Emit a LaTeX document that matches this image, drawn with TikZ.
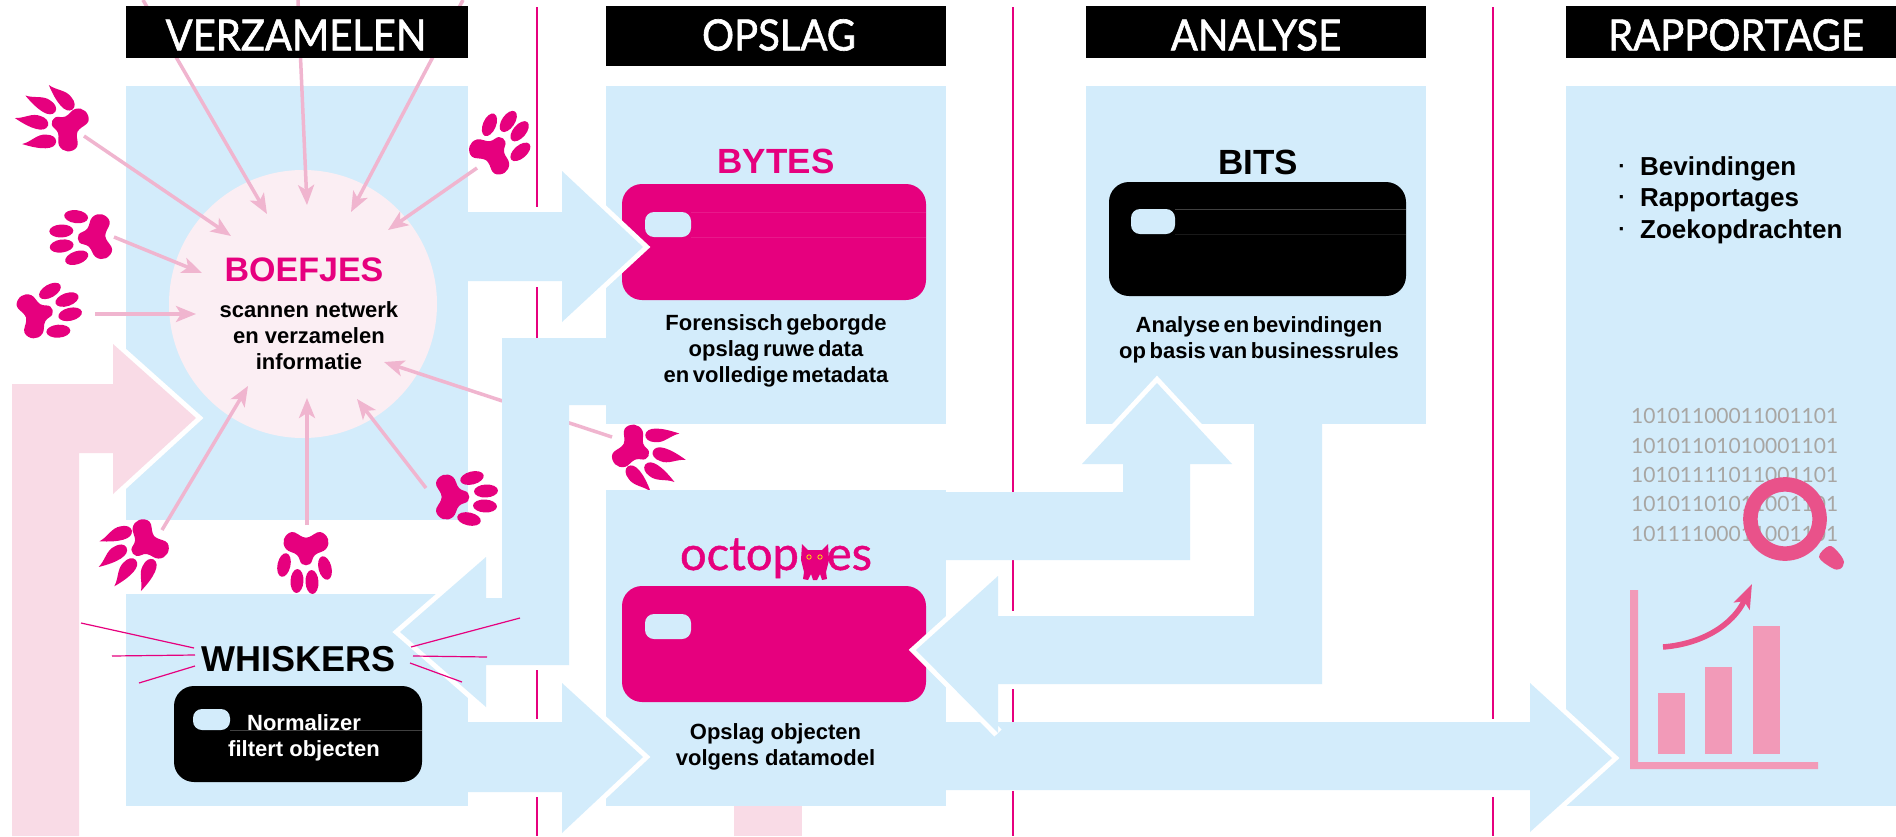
\documentclass[tikz,border=0pt]{standalone}
\usepackage{fontspec}
\setmainfont{Liberation Sans}
\newfontfamily\latofont{Lato}
\newfontfamily\latoheavy[FakeBold=1.5]{Lato}
\newfontfamily\latologo[FakeBold=1]{Lato}
\usetikzlibrary{arrows.meta}
\definecolor{panelblue}{HTML}{D3ECFB}
\definecolor{kpink}{HTML}{E6007E}
\definecolor{palepink}{HTML}{F0B5CF}
\definecolor{softpink}{HTML}{F9DBE6}
\definecolor{circlepink}{HTML}{FBEEF3}
\definecolor{magpink}{HTML}{E9528A}
\definecolor{barpink}{HTML}{F29AB8}
\definecolor{bingray}{HTML}{A8A6A3}
\newcommand{\rtoe}[3]{\fill[shift={(#1,#2)},rotate=#3] (0,0) ellipse [x radius=6.5pt,y radius=12pt];}
\newcommand{\ctoe}[3]{\fill[shift={(#1,#2)},rotate=#3] (0,-13) .. controls (9,-12) and (8,3) .. (2,21) .. controls (0,12) and (-8,6) .. (-7,-3) .. controls (-7,-9) and (-4,-13) .. (0,-13) -- cycle;}
\newcommand{\pawpadshape}{\fill[kpink] plot[smooth cycle,tension=0.7] coordinates {(-22,-8) (-14,-15) (-3,-10) (3,-10) (14,-15) (22,-8) (20,2) (9,8) (4,17) (-4,17) (-9,8) (-20,2)};}
\newcommand{\tightbody}{\bfseries\fontsize{22}{26}\selectfont\spaceskip=.16em\relax}
\tikzset{
 pawround/.pic={\pawpadshape \begin{scope}[kpink]\rtoe{-22}{18}{-12}\rtoe{-9}{34}{-3}\rtoe{6}{35}{3}\rtoe{19}{21}{14}\end{scope}},
 pawclaw/.pic={\pawpadshape \begin{scope}[kpink]\ctoe{-24}{16}{-25}\ctoe{-11}{32}{-8}\ctoe{8}{33}{8}\ctoe{23}{18}{25}\end{scope}},
 panel/.style={fill=panelblue,anchor=north west,inner sep=0pt,outer sep=0pt},
 header/.style={fill=black,anchor=north west,inner sep=0pt,outer sep=0pt},
 headtext/.style={font=\latoheavy\fontsize{43}{46}\selectfont,text=white,inner sep=0pt,xscale=.93},
 card/.style={anchor=north west,inner sep=0pt,outer sep=0pt,rounded corners=20pt},
 pill/.style={fill=panelblue,anchor=north west,inner sep=0pt,outer sep=0pt,rounded corners=9pt},
 body/.style={font=\bfseries\fontsize{22}{26}\selectfont,align=center,inner sep=0pt},
 title/.style={font=\bfseries\fontsize{35}{38}\selectfont,inner sep=0pt},
 feed/.style={draw=palepink,line width=3.5pt,-{Stealth[length=20pt,width=16pt,inset=5pt]}},
 whisker/.style={draw=kpink,line width=1.2pt},
 halo/.style={draw=white,line width=10pt,miter limit=10},
 flow/.style={fill=panelblue},
 faint/.style={line width=.5pt}
}
\begin{document}
\begin{tikzpicture}[x=1pt,y=-1pt]
\useasboundingbox (0,0) rectangle (1896,836);
\fill[white] (0,0) rectangle (1896,836);

% section dividers
\foreach \x/\a/\b in {537/7/207,537/287/338,537/670/719,537/797/836,
 1013/7/492,1013/560/611,1013/689/722,1013/791/836,1493/7/719,1493/797/836}
 {\draw[kpink,line width=2.6pt] (\x,\a) -- (\x,\b);}

% upper panels
\node[panel,minimum width=342pt,minimum height=434pt] (pVerz) at (126,86) {};
\node[panel,minimum width=340pt,minimum height=338pt] (pByt) at (606,86) {};
\node[panel,minimum width=340pt,minimum height=338pt] (pBit) at (1086,86) {};
\node[panel,minimum width=330pt,minimum height=720pt] (pRap) at (1566,86) {};

% pink input arrow
\draw[halo] (113,344) -- (196,418) -- (113,494);
\fill[softpink] (12,836) -- (12,384) -- (113,384) -- (113,344) -- (196,418) -- (113,494) -- (113,453) -- (79,453) -- (79,836) -- cycle;
\fill[softpink] (734,806) rectangle (802,836);

% boefjes circle
\node[circle,fill=circlepink,minimum size=268pt,inner sep=0pt] (boefjes) at (303,304) {};

% free ends of the feeds
\coordinate (s1) at (143,0);  \coordinate (t1) at (267,214);
\coordinate (s2) at (298,0);  \coordinate (t2) at (307,205);
\coordinate (s3) at (463,0);  \coordinate (t3) at (351,212);
\coordinate (s4) at (84,136); \coordinate (t4) at (231,236);
\coordinate (s5) at (114,237);\coordinate (t5) at (202,273);
\coordinate (s6) at (95,314); \coordinate (t6) at (196,314);
\coordinate (s7) at (477,168);\coordinate (t7) at (388,230);
\coordinate (s8) at (612,437);\coordinate (t8) at (384,362);
\coordinate (s9) at (162,530);\coordinate (t9) at (248,386);
\coordinate (s10) at (307,525);\coordinate (t10) at (307,398);
\coordinate (s11) at (426,488);\coordinate (t11) at (357,399);
\foreach \i in {1,...,11} {\draw[feed] (s\i) -- (t\i);}

% paws
\pic[rotate=-114] at (69,128) {pawclaw};
\pic[rotate=-85] at (96,237) {pawround};
\pic[rotate=106] at (35,315) {pawround};
\pic[rotate=143] at (492,153) {pawround};
\pic[rotate=64] at (632,448) {pawclaw};
\pic[rotate=90] at (451,497) {pawround};
\pic[rotate=0] at (306,547) {pawround};
\pic[rotate=-50] at (147,542) {pawclaw};

% lower panels
\node[panel,minimum width=342pt,minimum height=212pt] (pWhisk) at (126,594) {};
\node[panel,minimum width=340pt,minimum height=316pt] (pOcto) at (606,490) {};

% cards
\node[card,fill=kpink,minimum width=304pt,minimum height=116pt] (cByt) at (622,184) {};
\node[pill,minimum width=46pt,minimum height=25pt] (pillByt) at (645,212) {};
\draw[faint,color=kpink!90!white] (pillByt.north east) -- (cByt.east |- pillByt.north);
\draw[faint,color=kpink!90!white] (pillByt.south east) -- (cByt.east |- pillByt.south);
\node[card,fill=black,minimum width=297pt,minimum height=114pt] (cBit) at (1109,182) {};
\node[pill,minimum width=44pt,minimum height=25pt] (pillBit) at (1131,209) {};
\draw[faint,color=black!75!white] (pillBit.north east) -- (cBit.east |- pillBit.north);
\draw[faint,color=black!90!white] (pillBit.south east) -- (cBit.east |- pillBit.south);
\node[card,fill=kpink,minimum width=304pt,minimum height=116pt] (cOcto) at (622,586) {};
\node[pill,minimum width=46pt,minimum height=25pt] (pillOcto) at (645,614) {};
\node[card,fill=black,minimum width=248pt,minimum height=96pt] (cWhisk) at (174,686) {};
\node[pill,minimum width=37pt,minimum height=21pt] (pillWhisk) at (193,709) {};
\draw[faint,color=black!75!white] (pillWhisk.south east) -- (cWhisk.east |- pillWhisk.south);

% flow arrows
\draw[halo] (562,171) -- (643,247) -- (562,322);
\fill[flow] (468,212) -- (562,212) -- (562,171) -- (643,247) -- (562,322) -- (562,281) -- (468,281) -- cycle;

\draw[halo] (562,683) -- (643,757) -- (562,833);
\fill[flow] (468,722) -- (562,722) -- (562,683) -- (643,757) -- (562,833) -- (562,792) -- (468,792) -- cycle;

\draw[halo] (486,557) -- (400,632) -- (486,707);
\fill[flow] (606,338) -- (502,338) -- (502,598) -- (486,598) -- (486,557) -- (400,632) -- (486,707) -- (486,665) -- (569,665) -- (569,405) -- (606,405) -- cycle;

\draw[halo] (1082,464) -- (1157,383) -- (1232,464);
\fill[flow] (946,492) -- (1123,492) -- (1123,464) -- (1082,464) -- (1157,383) -- (1232,464) -- (1190,464) -- (1190,560) -- (946,560) -- cycle;

\draw[halo] (1530,683) -- (1612,758) -- (1530,832);
\fill[flow] (946,722) -- (1530,722) -- (1530,683) -- (1612,758) -- (1530,832) -- (1530,790) -- (946,790) -- cycle;

\draw[halo] (998,576) -- (916,650) -- (998,733);
\fill[flow] (1254,424) -- (1254,616) -- (998,616) -- (998,576) -- (916,650) -- (998,733) -- (998,684) -- (1322,684) -- (1322,424) -- cycle;

% headers
\node[header,minimum width=342pt,minimum height=52pt] (hVerz) at (126,6) {};
\node[headtext] (hVerzT) at (296,35) {VERZAMELEN};
\node[header,minimum width=340pt,minimum height=60pt] (hOps) at (606,6) {};
\node[headtext] (hOpsT) at (779,35) {OPSLAG};
\node[header,minimum width=340pt,minimum height=52pt] (hAna) at (1086,6) {};
\node[headtext] (hAnaT) at (1256,35) {ANALYSE};
\node[header,minimum width=330pt,minimum height=52pt] (hRap) at (1566,6) {};
\node[headtext] (hRapT) at (1736,35) {RAPPORTAGE};

% texts
\node[title,text=kpink,font=\bfseries\fontsize{34}{38}\selectfont] (tBoef) at (304,270) {BOEFJES};
\node[body] (tBoefBody) at (309,336) {scannen netwerk\\en verzamelen\\informatie};
\node[title,text=kpink] (tByt) at (776,161) {BYTES};
\node[body,font=\tightbody] (tBytBody) at (776,351) {Forensisch geborgde\\opslag ruwe data\\en volledige metadata};
\node[title] (tBit) at (1258,162) {BITS};
\node[body,font=\tightbody] (tBitBody) at (1259,340) {Analyse en bevindingen\\op basis van businessrules};
\node[body] (tOctoBody) at (775.5,747) {Opslag objecten\\volgens datamodel};
\node[body,text=white] (tNorm) at (304,737.5) {Normalizer\\filtert objecten};
\node[title,font=\bfseries\fontsize{36}{40}\selectfont] (tWhisk) at (299,659) {WHISKERS};

% whiskers
\coordinate (wa1) at (81,623);  \coordinate (wb1) at (194,648);
\coordinate (wa2) at (112,656); \coordinate (wb2) at (195,655);
\coordinate (wa3) at (139,683); \coordinate (wb3) at (195,666);
\coordinate (wa4) at (520,618); \coordinate (wb4) at (411,647);
\coordinate (wa5) at (487,657); \coordinate (wb5) at (413,656);
\coordinate (wa6) at (462,682); \coordinate (wb6) at (410,663);
\foreach \i in {1,...,6} {\draw[whisker] (wa\i) -- (wb\i);}

% octopoes logo
\node[font=\latologo\fontsize{47}{50}\selectfont,text=kpink,inner sep=0pt,anchor=base] (tOcto) at (776,570) {octop\hspace{28pt}es};
\fill[kpink] (802,544) -- (808,550) -- (822,550) -- (828,544) -- (829,560) -- (826,572) -- (827,579) -- (822,580) -- (820,574) -- (817,580) -- (813,580) -- (811,574) -- (808,580) -- (803,579) -- (804,572) -- (801,560) -- cycle;
\draw[yellow,line width=.7pt] (809,557) circle (2.2pt) (820,557) circle (2.2pt);

% rapportage list
\node[font=\bfseries\fontsize{26}{30}\selectfont,anchor=west,inner sep=0pt] (l1) at (1640,169) {Bevindingen};
\node[font=\bfseries\fontsize{26}{30}\selectfont,anchor=west,inner sep=0pt] (l2) at (1640,200) {Rapportages};
\node[font=\bfseries\fontsize{26}{30}\selectfont,anchor=west,inner sep=0pt] (l3) at (1640,232) {Zoekopdrachten};
\node[font=\bfseries\fontsize{22}{24}\selectfont] (d1) at (1622,169) {·};
\node[font=\bfseries\fontsize{22}{24}\selectfont] (d2) at (1622,200) {·};
\node[font=\bfseries\fontsize{22}{24}\selectfont] (d3) at (1622,232) {·};

% binary block
\node[font=\latofont\fontsize{21}{29.3}\selectfont,text=bingray,align=left,anchor=west,inner sep=0pt] (bin) at (1631,475)
 {10101100011001101\\10101101010001101\\10101111011001101\\10101101011001101\\10111100011001101};
% magnifier
\draw[magpink,line width=14.5pt] (1785,519) circle (34.6pt);
\fill[magpink] plot[smooth cycle,tension=0.6] coordinates {(1819,557) (1829,546) (1838,552) (1844,562) (1840,569) (1832,568)};

% chart
\fill[barpink] (1630,590) -- (1638,590) -- (1638,762) -- (1818,762) -- (1818,769) -- (1630,769) -- cycle;
\fill[barpink] (1658,693) rectangle (1685,754);
\fill[barpink] (1705,667) rectangle (1732,754);
\fill[barpink] (1753,626) rectangle (1780,754);
\coordinate (curveA) at (1663,647);
\coordinate (curveB) at (1752,584);
\draw[magpink,line width=5.5pt,-{Stealth[length=24pt,width=17pt,inset=5pt]}] (curveA) .. controls (1702,644) and (1733,625) .. (curveB);
\end{tikzpicture}
\end{document}
